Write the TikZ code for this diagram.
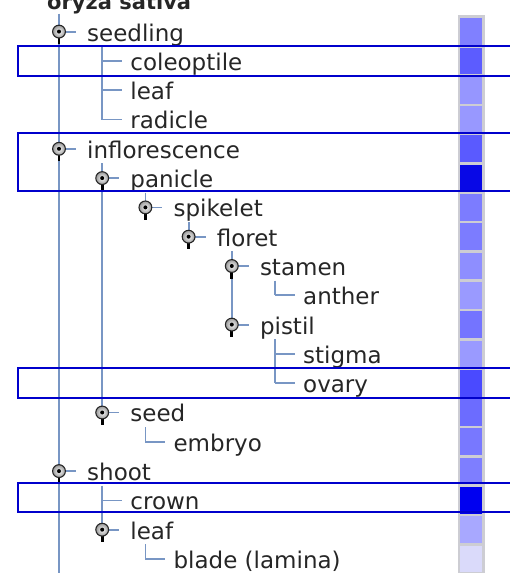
\documentclass[tikz,border=0pt]{standalone}
\usepackage{fontspec}
\newfontfamily\treefont{DejaVu Sans}
\usepackage{xcolor}
\definecolor{Wire}{HTML}{7896C4}
\definecolor{Frame}{HTML}{0000CC}
\definecolor{Ink}{HTML}{262626}
\definecolor{BarGray}{HTML}{CDCDD3}
\usetikzlibrary{calc}

\tikzset{
  label text/.style={font=\treefont\fontsize{23}{23}\selectfont,text=Ink,anchor=base west,inner sep=0pt},
  wire/.style={draw=Wire,line width=1.8pt},
  hilite/.style={draw=Frame,line width=2pt},
  handle/.pic={\draw[black,line width=2.8pt] (0,5) -- (0,12.5);
    \shade[inner color=gray!5,outer color=gray!80,draw=black!85,line width=1.1pt] (0,0) circle (6.4);
    \fill[black] (0,0) circle (2);}
}

\begin{document}
\begin{tikzpicture}[x=1pt,y=-1pt]
\useasboundingbox (0,0) rectangle (510,573);
\clip (0,0) rectangle (510,573);
% rows: index / level / text / has children / bar colour
\def\rows{0/0/seedling/1/8080FF,1/1/coleoptile/0/5C5CFF,2/1/leaf/0/9696FF,3/1/radicle/0/9898FF,
  4/0/inflorescence/1/5A5AFF,5/1/panicle/1/0808E6,6/2/spikelet/1/7C7CFF,7/3/floret/1/7C7CFF,
  8/4/stamen/1/8E8EFF,9/5/anther/0/9A9AFF,10/4/pistil/1/7474FF,11/5/stigma/0/9A9AFF,
  12/5/ovary/0/4A4AFF,13/1/seed/1/6C6CFF,14/2/embryo/0/7878FF,15/0/shoot/1/7E7EFF,
  16/1/crown/0/0000F0,17/1/leaf/1/A8A8FF,18/2/{blade (lamina)}/0/DADAFA}
\foreach \i/\l/\t/\e/\c in \rows {
  \coordinate (r\i) at ({59+43.2*\l},{31.6+29.3*\i});
  \coordinate (b\i) at ({59+43.2*\l},{16.9+29.3*\i});
}
\node[label text,font=\treefont\bfseries\fontsize{21}{21}\selectfont] (root) at (47,9) {oryza sativa};
\coordinate (rootend) at (59,590);
% tree lines
\draw[wire] (root.south -| b0) -- (rootend);
\draw[wire] (b1) -- (r3);\draw[wire] (b5) -- (r13);\draw[wire] (b6) -- (r6);\draw[wire] (b7) -- (r7);\draw[wire] (b8) -- (r10);
\draw[wire] (b9) -- (r9);\draw[wire] (b11) -- (r12);\draw[wire] (b14) -- (r14);\draw[wire] (b16) -- (r17);\draw[wire] (b18) -- (r18);
% labels, handles and colour bar
\fill[BarGray] (457.5,15) rectangle (484.5,590);
\foreach \i/\l/\t/\e/\c in \rows {
  \definecolor{cell\i}{HTML}{\c}
  \fill[cell\i] (460,{16.9+29.3*\i+1.3}) rectangle (482,{16.9+29.3*(\i+1)-1.3});
  \node[label text] (t\i) at ({87+43.2*\l},{41+29.3*\i}) {\t};
  \ifnum\e=1 \draw[wire] (r\i) -- ++(17,0); \pic at (r\i) {handle};
  \else \draw[wire] (r\i) -- ++(20,0); \fi
}
% highlighted rows
\draw[hilite] (18,45.5) rectangle (530,76);
\draw[hilite] (18,132.5) rectangle (530,190.5);
\draw[hilite] (18,367.5) rectangle (530,397.5);
\draw[hilite] (18,482.5) rectangle (530,512);
\end{tikzpicture}
\end{document}
